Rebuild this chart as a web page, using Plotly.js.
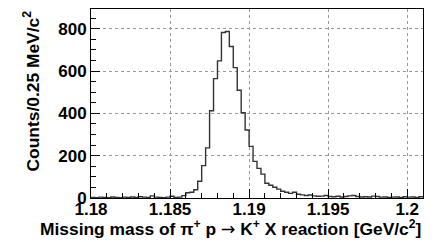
<!DOCTYPE html>
<html>
<head>
<meta charset="utf-8">
<script src="https://cdn.plot.ly/plotly-3.0.1.min.js"></script>
<style>html,body{margin:0;padding:0;background:#fff;}#chart{width:441px;height:242px;}</style>
</head>
<body>
<div id="chart"></div>
<script>
// Histogram: 0.25 MeV bins from 1.180 GeV
const binStart = 1.18;
const binWidth = 0.00025;
const counts = [
  3,2,4,3,2,5,3,2,4,3, 5,3,6,4,3,10,4,3,2,4,
  8,3,4,11,25,27,39,79,153,237,
  412,564,648,782,787,716,616,509,403,321,
  244,173,140,113,70,60,51,42,32,27,
  22,27,18,15,12,14,10,8,9,12,
  7,6,8,5,7,10,12,7,5,6,
  5,9,7,4,5,3,4,5,3,6,
  4,5,3,6
];
const xTickVals = [1.18, 1.185, 1.19, 1.195, 1.2];
const xTickText = ["1.18", "1.185", "1.19", "1.195", "1.2"];
const yTickVals = [0, 200, 400, 600, 800];
const yTickText = ["0", "200", "400", "600", "800"];

const edges = [];
const yStep = [];
for (let i = 0; i < counts.length; i++) {
  edges.push(binStart + i * binWidth);
  yStep.push(counts[i]);
}
edges.push(binStart + counts.length * binWidth);
yStep.push(counts[counts.length - 1]);

const tickFont = {family: "Liberation Sans, Arial, sans-serif", size: 17, color: "#000", weight: "bold"};
const titleFont = {family: "Liberation Sans, Arial, sans-serif", size: 17.4, color: "#000", weight: "bold"};

const trace = {
  x: edges, y: yStep, type: "scatter", mode: "lines",
  line: {shape: "hv", color: "#333", width: 1.4},
  hoverinfo: "skip"
};

const layout = {
  width: 441, height: 242,
  margin: {l: 91, r: 18, t: 9, b: 44},
  paper_bgcolor: "#fff", plot_bgcolor: "#fff",
  showlegend: false,
  font: tickFont,
  xaxis: {
    range: [1.18, 1.201],
    tickmode: "array", tickvals: xTickVals, ticktext: xTickText,
    ticks: "inside", ticklen: 9, tickcolor: "#000", tickwidth: 1,
    ticklabelstandoff: -4,
    showline: true, linecolor: "#000", linewidth: 1, mirror: true,
    showgrid: true, gridcolor: "#999", griddash: "dot", gridwidth: 1,
    zeroline: false,
    tickfont: tickFont,
    minor: {dtick: 0.001, tick0: 1.18, ticks: "inside", ticklen: 5, tickcolor: "#000", showgrid: false}
  },
  yaxis: {
    range: [0, 893],
    tickmode: "array", tickvals: yTickVals, ticktext: yTickText,
    ticks: "inside", ticklen: 9, tickcolor: "#000", tickwidth: 1,
    showline: true, linecolor: "#000", linewidth: 1, mirror: true,
    showgrid: true, gridcolor: "#999", griddash: "dot", gridwidth: 1,
    zeroline: false,
    tickfont: tickFont,
    minor: {dtick: 50, tick0: 0, ticks: "inside", ticklen: 5, tickcolor: "#000", showgrid: false}
  },
  annotations: [
    {text: "Missing mass of π<sup>+</sup> p <span style=\"font-family:DejaVu Sans;font-weight:normal\">→</span> K<sup>+</sup> X reaction [GeV/c<sup>2</sup>]",
     xref: "paper", yref: "paper", x: 1.0, y: 0, xanchor: "right", yanchor: "top",
     yshift: -17, showarrow: false, font: titleFont},
    {text: "Counts/0.25 MeV/c<sup>2</sup>",
     xref: "paper", yref: "paper", x: 0, y: 1.0, xanchor: "center", yanchor: "top",
     xshift: -60, textangle: -90, showarrow: false, font: titleFont}
  ]
};

Plotly.newPlot("chart", [trace], layout, {displayModeBar: false, staticPlot: true});
</script>
</body>
</html>
